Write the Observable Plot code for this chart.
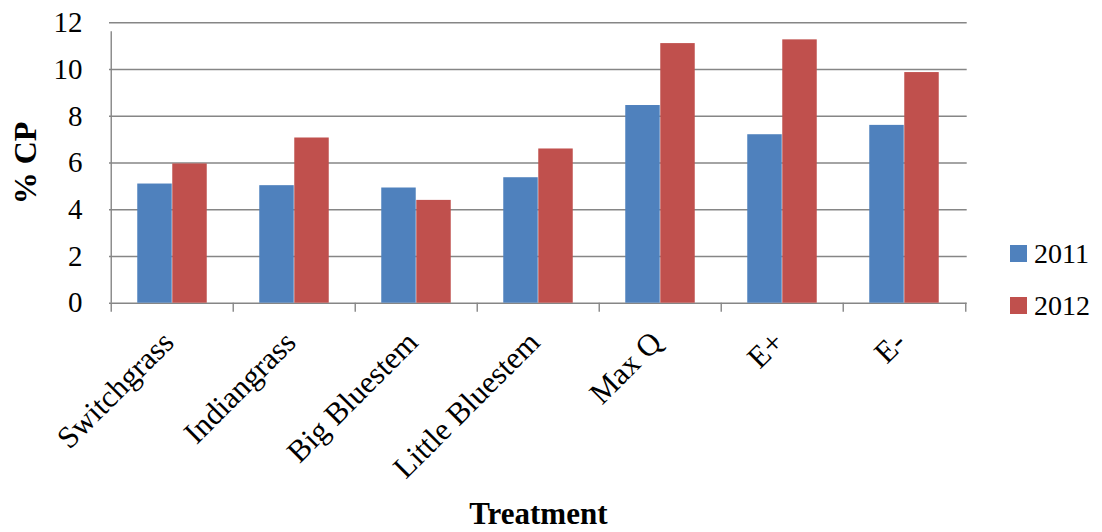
<!DOCTYPE html>
<html><head><meta charset="utf-8">
<script src="https://cdn.jsdelivr.net/npm/d3@7"></script>
<script src="https://cdn.jsdelivr.net/npm/@observablehq/plot@0.6"></script>
<style>
body{margin:0;background:#fff}
#wrap{position:relative;width:1102px;height:532px;font-family:"Liberation Serif",serif}
#chart svg text{fill:#000;font-family:"Liberation Serif",serif !important}
.sw{position:absolute;width:17px;height:17px}
.lt{position:absolute;font-size:28px;line-height:28px;color:#000;font-family:"Liberation Serif",serif !important}
</style></head><body>
<div id="wrap"><div id="chart"></div><div id="legend"></div></div>
<script>
const categories = ["Switchgrass","Indiangrass","Big Bluestem","Little Bluestem","Max Q","E+","E-"];
const years = ["2011","2012"];
const values2011 = [5.10,5.03,4.93,5.37,8.46,7.21,7.61];
const values2012 = [5.96,7.07,4.40,6.60,11.11,11.27,9.87];
const yTicks = [0,2,4,6,8,10,12];
const colors = ["#4F81BD","#C0504D"];

const data = categories.flatMap((c,i)=>[
  {cat:c,year:years[0],value:values2011[i]},
  {cat:c,year:years[1],value:values2012[i]}
]);

const W = 1102, H = 532, ML = 109, MR = 135.3, MT = 22.3, MB = 229.3;
const step = (W - ML - MR) / categories.length;
const gray = "#868686";
const font = '"Liberation Serif", serif';

const plot = Plot.plot({
  width: W, height: H,
  marginLeft: ML, marginRight: MR, marginTop: MT, marginBottom: MB,
  style: {fontFamily: font, fontSize: "29px", color: gray, background: "#fff", overflow: "visible"},
  x: {domain: categories, padding: 0, axis: null},
  y: {domain: [0,12], axis: null},
  color: {domain: years, range: colors},
  marks: [
    Plot.ruleY(yTicks, {stroke: gray, strokeWidth: 1.4}),
    Plot.ruleY(yTicks, {y: d=>d, x1: categories[0], x2: categories[0], dx: -step/2, insetLeft: -9, stroke: gray, strokeWidth: 1.4}),
    Plot.text(yTicks, {y: d=>d, frameAnchor: "left", dx: -27, textAnchor: "end", fontSize: 29, fill: "#000"}),
    Plot.barY(data.filter(d=>d.year===years[0]), {x:"cat", y:"value", fill:"year", insetLeft: step*0.2143, insetRight: step*0.5}),
    Plot.barY(data.filter(d=>d.year===years[1]), {x:"cat", y:"value", fill:"year", insetLeft: step*0.5, insetRight: step*0.2143}),
    Plot.ruleX([categories[0]], {x: d=>d, y1: 0, y2: 12, insetBottom: -9, dx: -step/2, stroke: gray, strokeWidth: 1.4}),
    Plot.ruleX(categories, {x: d=>d, y1: 0, y2: 0, insetBottom: -9, dx: -step/2, stroke: gray, strokeWidth: 1.4}),
    Plot.ruleX([categories[categories.length-1]], {x: d=>d, y1: 0, y2: 0, insetBottom: -9, dx: step/2, stroke: gray, strokeWidth: 1.4}),
    Plot.text(categories, {x: d=>d, frameAnchor: "bottom", dy: 41, dx: 3, rotate: -45, textAnchor: "end", fontSize: 31, fill: "#000"}),
    Plot.text(["% CP"], {frameAnchor: "left", dx: -84, rotate: -90, textAnchor: "middle", fontSize: 32, fontWeight: "bold", fill: "#000"}),
    Plot.text(["Treatment"], {frameAnchor: "bottom", dy: 221, textAnchor: "middle", fontSize: 31, fontWeight: "bold", fill: "#000"})
  ]
});
document.getElementById("chart").appendChild(plot);

const legend = document.getElementById("legend");
years.forEach((y,i)=>{
  const sw = document.createElement("div");
  sw.className = "sw";
  sw.style.left = "1010px"; sw.style.top = (245 + i*52) + "px"; sw.style.background = colors[i];
  legend.appendChild(sw);
  const t = document.createElement("div");
  t.className = "lt"; t.textContent = y;
  t.style.left = "1034px"; t.style.top = (239.6 + i*52) + "px";
  legend.appendChild(t);
});
</script>
</body></html>
